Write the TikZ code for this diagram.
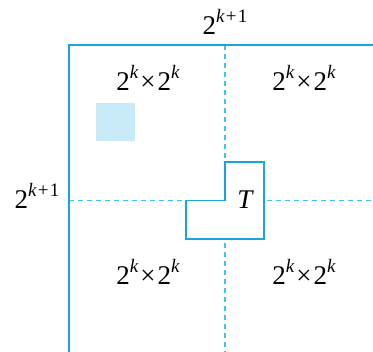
\documentclass[tikz,border=0pt]{standalone}
\usepackage{fontspec}
\setmainfont{Liberation Serif}
\definecolor{frameblue}{HTML}{1BA3DF}
\definecolor{dashblue}{HTML}{3EC3F2}
\definecolor{cellfill}{HTML}{C8E9F8}
\newcommand\twok{2\raisebox{.42em}{\fontsize{19}{19}\selectfont\itshape k}}
\newcommand\twokk{2\raisebox{.42em}{\fontsize{19}{19}\selectfont\itshape k\hspace{1.2pt}\upshape+\hspace{1.2pt}1}}
\newcommand\crossk{\twok\hspace{2pt}{\fontsize{27}{30}\selectfont×}\hspace{2pt}\twok}
\begin{document}
\begin{tikzpicture}[x=1pt,y=-1pt,
  frame/.style={draw=frameblue,line width=1.4pt},
  divider/.style={draw=dashblue,line width=1.6pt,dash pattern=on 5pt off 4pt},
  lbl/.style={font=\fontsize{27}{30}\selectfont,inner sep=0pt}]
\useasboundingbox (0,0) rectangle (373,352);
% dashed dividers
\draw[divider] (225,45) -- (225,352);
\draw[divider] (69,200.5) -- (373,200.5);
% outer frame (cropped)
\draw[frame] (69,352) -- (69,45) -- (373,45);
% shaded cell
\fill[cellfill] (96,103) rectangle (135,141);
% tromino T
\draw[frame,fill=white,line width=1.2pt] (225,162) -- (264,162) -- (264,239) -- (186,239) -- (186,200.5) -- (225,200.5) -- cycle;
\node[lbl] (T) at (245,200) {\itshape T};
% labels
\node[lbl] (top) at (225,22) {\twokk};
\node[lbl] (left) at (37,196) {\twokk};
\node[lbl] (q1) at (148,78) {\crossk};
\node[lbl] (q2) at (304,78) {\crossk};
\node[lbl] (q3) at (148,272) {\crossk};
\node[lbl] (q4) at (304,272) {\crossk};
\end{tikzpicture}
\end{document}
